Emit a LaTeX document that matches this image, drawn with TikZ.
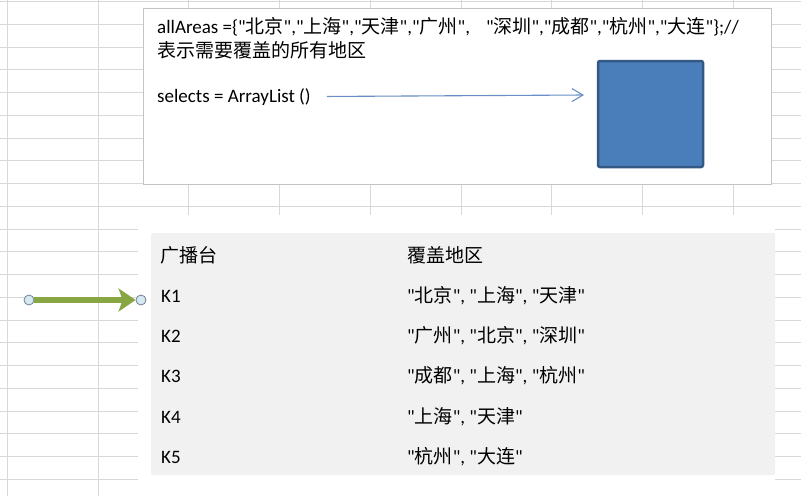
\documentclass[tikz,border=0pt]{standalone}
\usepackage{fontspec}
\setmainfont{Carlito}[Ligatures=TeXOff]
\newfontfamily\cjk{Noto Sans CJK SC}
\newcommand{\zhtext}[1]{{\cjk #1}}
\usepackage{tikz}
\usetikzlibrary{backgrounds,arrows.meta}

\definecolor{gridgray}{RGB}{216,216,216}
\definecolor{boxgray}{RGB}{196,196,196}
\definecolor{tblgray}{RGB}{240,241,240}
\definecolor{sqblue}{RGB}{74,126,187}
\definecolor{sqedge}{RGB}{52,88,132}
\definecolor{arrblue}{RGB}{104,144,198}
\definecolor{olive}{RGB}{137,166,68}
\definecolor{dotfill}{RGB}{214,232,242}
\definecolor{dotedge}{RGB}{110,128,146}

\begin{document}
\begin{tikzpicture}
		[x=1pt,y=-1pt,
		 t/.style= {anchor=west,inner sep=0pt,font=\fontsize{19}{23}\selectfont},
		 panel/.style= {draw=boxgray,fill=white,line width=1pt,inner sep=0pt},
		 sq/.style= {draw=sqedge,fill=sqblue,line width=2.5pt,rounded corners=2pt,inner sep=0pt},
		 dot/.style= {circle,draw=dotedge,fill=dotfill,line width=0.8pt,minimum size=10pt,inner sep=0pt},
		 greenarrow/.style= {draw=olive,line width=6pt,-{Stealth[length=17pt,width=23pt,inset=4pt]}},
		 bluearrow/.style= {draw=arrblue,line width=1.1pt,shorten <=16pt,-{Straight Barb[length=11pt,width=13pt]}}]

		\useasboundingbox (0,0) rectangle (801,496);

		\node[panel,minimum width=627.5pt,minimum height=175.5pt] (code) at (457.25,96.25) {};

		\node[t] (areas) at (157,27)
			{allAreas =\{"\zhtext{北京}","\zhtext{上海}","\zhtext{天津}","\zhtext{广州}",\hspace{16pt}"\zhtext{深圳}","\zhtext{成都}","\zhtext{杭州}","\zhtext{大连}"\};//}
		;
		\node[t] (note) at (157,50) {\zhtext{表示需要覆盖的所有地区}};

		\node[sq,minimum width=105pt,minimum height=106pt] (set) at (650.5,114) {};

		\coordinate (tip) at (584,95);
		\node[t] (sel) at (157,97) {selects = ArrayList ()}
			edge [bluearrow]	(tip)
		;

		\node[fill=tblgray,rounded corners=2pt,minimum width=624pt,minimum height=242pt,inner sep=0pt] (tbl) at (463,354) {};

		\node[t] (hk) at (160,255) {\zhtext{广播台}};
		\node[t] (hv) at (407,255) {\zhtext{覆盖地区}};

		\node[t] (k1) at (161,296) {K1};
		\node[t] (k2) at (161,336) {K2};
		\node[t] (k3) at (161,376) {K3};
		\node[t] (k4) at (161,417) {K4};
		\node[t] (k5) at (161,457) {K5};

		\node[t] (v1) at (407,296) {"\zhtext{北京}", "\zhtext{上海}", "\zhtext{天津}"};
		\node[t] (v2) at (407,336) {"\zhtext{广州}", "\zhtext{北京}", "\zhtext{深圳}"};
		\node[t] (v3) at (407,376) {"\zhtext{成都}", "\zhtext{上海}", "\zhtext{杭州}"};
		\node[t] (v4) at (407,417) {"\zhtext{上海}", "\zhtext{天津}"};
		\node[t] (v5) at (407,457) {"\zhtext{杭州}", "\zhtext{大连}"};

		\node[dot] (g2) at (141,300) {};
		\node[dot] (g1) at (29,300) {}
			edge [greenarrow]	(g2)
		;

		\begin{pgfonlayer}{background}
			\foreach \gx in {7,98,188,279,370,461,551,642,733}
				\draw[gridgray,line width=1pt] (\gx,0) -- (\gx,496);
			\foreach \k in {0,...,21}
				\draw[gridgray,line width=1pt] (0,{1.5+22.75*\k}) -- (801,{1.5+22.75*\k});
			\fill[white] (138,215) rectangle (775,496);
		\end{pgfonlayer}

	\end{tikzpicture}
\end{document}
